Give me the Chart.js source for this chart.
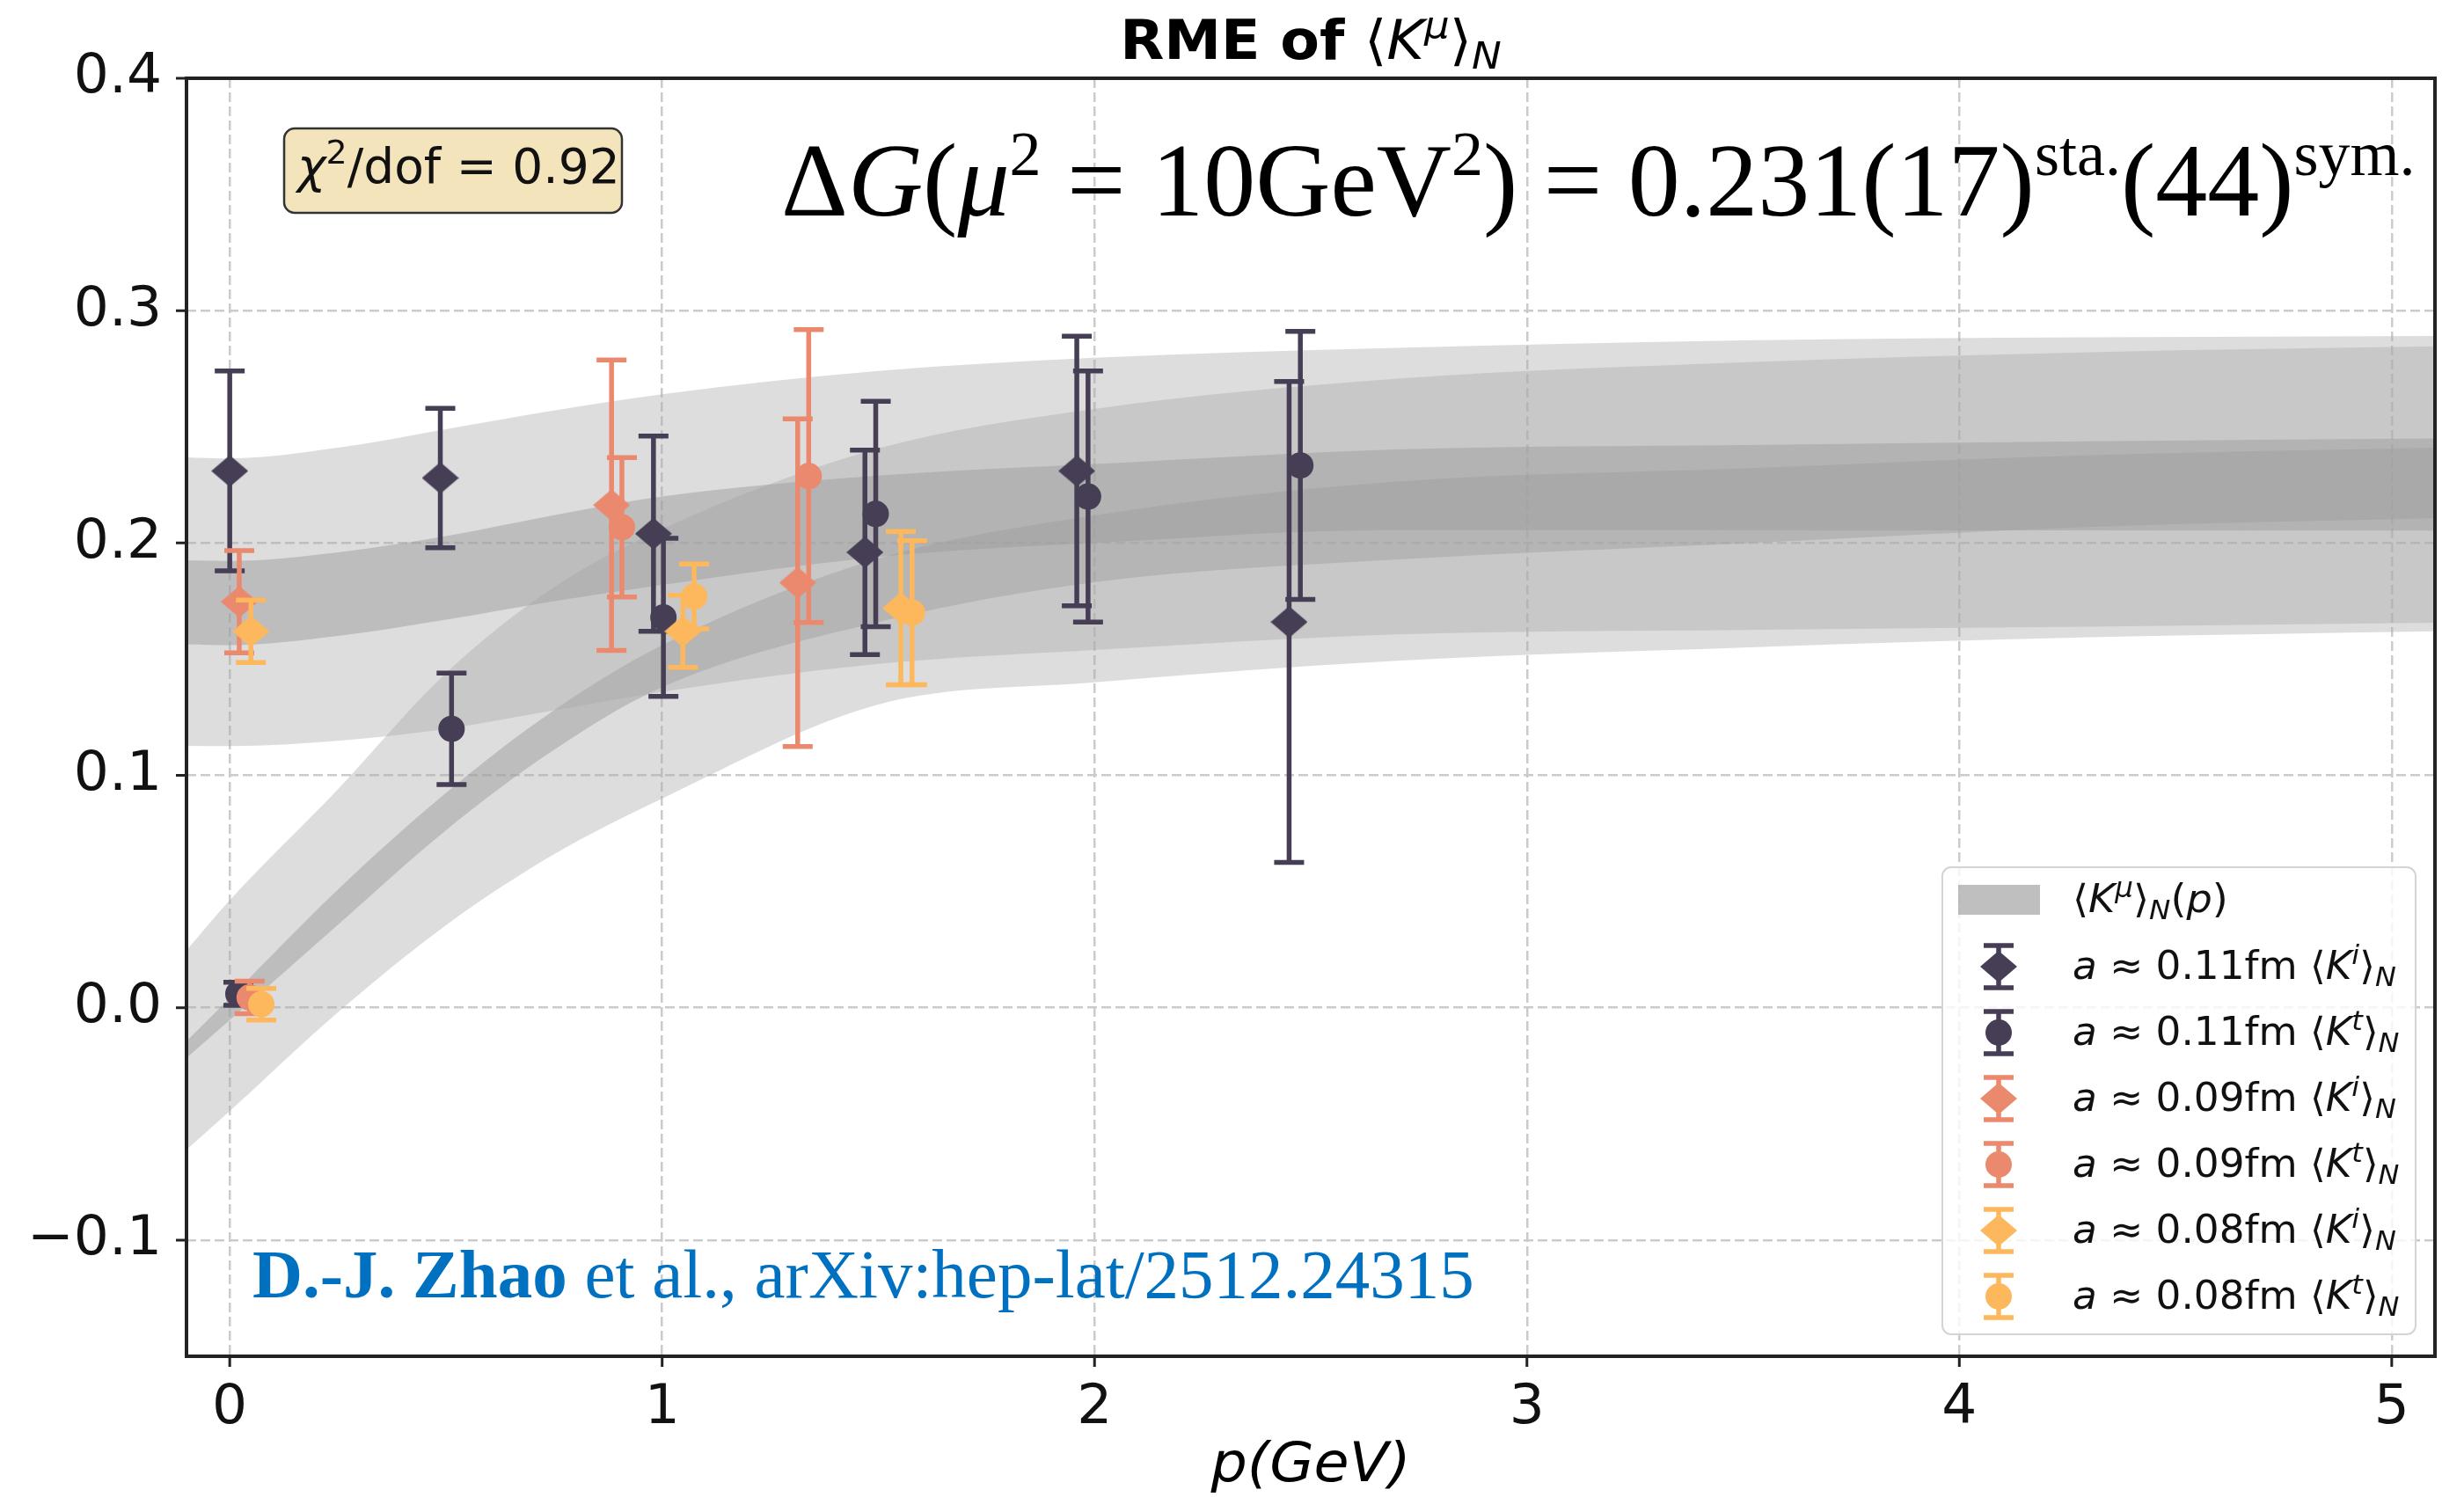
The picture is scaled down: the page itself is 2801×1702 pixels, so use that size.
<!DOCTYPE html>
<html>
<head>
<meta charset="utf-8">
<script src="https://cdn.jsdelivr.net/npm/chart.js@4.4.1/dist/chart.umd.min.js"></script>
<style>
  html, body { margin: 0; padding: 0; background: #fff; }
</style>
</head>
<body>
<canvas id="c" width="2801" height="1702"></canvas>
<script>
// axis ticks
const xTicks = [0, 1, 2, 3, 4, 5];
const yTicks = [-0.1, 0, 0.1, 0.2, 0.3, 0.4];

// fit bands (A = flat fit, B = rising fit)
const bandP    = [-0.1, 0, 0.25, 0.5, 0.75, 1.0, 1.5, 2.0, 2.7, 3.5, 4.3, 5.1];
const aOuterLo = [0.1127, 0.1126, 0.1149, 0.120, 0.128, 0.136, 0.148, 0.154, 0.1607, 0.1626, 0.164, 0.1657];
const aOuterHi = [0.2369, 0.2364, 0.241, 0.249, 0.257, 0.264, 0.274, 0.2797, 0.284, 0.2872, 0.2885, 0.2891];
const aInnerLo = [0.1564, 0.156, 0.160, 0.167, 0.175, 0.182, 0.194, 0.200, 0.2056, 0.2055, 0.2054, 0.2053];
const aInnerHi = [0.1926, 0.1923, 0.196, 0.203, 0.212, 0.220, 0.229, 0.234, 0.2403, 0.2422, 0.2438, 0.245];
const bOuterLo = [-0.061, -0.0445, -0.002, 0.0355, 0.066, 0.090, 0.1305, 0.140, 0.1493, 0.155, 0.1594, 0.162];
const bOuterHi = [0.0247, 0.0463, 0.094, 0.144, 0.181, 0.206, 0.2407, 0.2577, 0.2707, 0.2777, 0.2821, 0.2846];
const bInnerLo = [-0.0216, -0.0053, 0.0357, 0.0764, 0.111, 0.138, 0.166, 0.1831, 0.1929, 0.1999, 0.2069, 0.2106];
const bInnerHi = [-0.0144, 0.0042, 0.0508, 0.0924, 0.128, 0.156, 0.1933, 0.2119, 0.2264, 0.2321, 0.2378, 0.241];

// data points: momentum, value, error
const p011i = [0.0, 0.487, 0.98, 1.469, 1.959, 2.45];
const v011i = [0.231, 0.228, 0.204, 0.196, 0.231, 0.166];
const e011i = [0.043, 0.030, 0.042, 0.044, 0.058, 0.1035];

const p011t = [0.02, 0.513, 1.003, 1.494, 1.985, 2.476];
const v011t = [0.006, 0.120, 0.168, 0.2125, 0.220, 0.2334];
const e011t = [0.005, 0.024, 0.034, 0.0485, 0.054, 0.0577];

const p009i = [0.022, 0.883, 1.3135];
const v009i = [0.1747, 0.2163, 0.1829];
const e009i = [0.022, 0.0625, 0.0705];

const p009t = [0.046, 0.907, 1.339];
const v009t = [0.0044, 0.2068, 0.2288];
const e009t = [0.007, 0.030, 0.063];

const p008i = [0.049, 1.048, 1.552];
const v008i = [0.162, 0.162, 0.172];
const e008i = [0.0134, 0.0155, 0.033];

const p008t = [0.073, 1.074, 1.578];
const v008t = [0.0015, 0.177, 0.170];
const e008t = [0.0068, 0.014, 0.031];

const spacing  = ['0.11', '0.11', '0.09', '0.09', '0.08', '0.08'];
const current  = ['i', 't', 'i', 't', 'i', 't'];
const dark = '#463e55', salmon = '#ea896e', yellow = '#fdb85d';

const SANS = "'DejaVu Sans', sans-serif";
const SERIF = "'Liberation Serif', 'DejaVu Serif', serif";
const STRETCH = 1.05;   // the source figure is a little wider than tall

function diamond(color, w, h) {
    const c = document.createElement('canvas');
    c.width = w * 2; c.height = h * 2;
    const g = c.getContext('2d');
    g.fillStyle = color;
    g.beginPath();
    g.moveTo(w, 0); g.lineTo(2 * w, h); g.lineTo(w, 2 * h); g.lineTo(0, h);
    g.closePath(); g.fill();
    return c;
}

const zip = (xs, ys) => xs.map((x, i) => ({x: x, y: ys[i]}));

const outerFill = 'rgba(170,170,170,0.40)';
const innerFill = 'rgba(150,150,150,0.50)';

function band(lo, hi, color) {
    const base = {type: 'line', pointRadius: 0, borderWidth: 1, borderColor: 'rgba(0,0,0,0)',
        cubicInterpolationMode: 'monotone', order: 100};
    return [
        Object.assign({}, base, {data: zip(bandP, lo), fill: false}),
        Object.assign({}, base, {data: zip(bandP, hi), fill: '-1', backgroundColor: color})
    ];
}

const series = [
    {p: p011i, v: v011i, e: e011i, color: dark},
    {p: p011t, v: v011t, e: e011t, color: dark},
    {p: p009i, v: v009i, e: e009i, color: salmon},
    {p: p009t, v: v009t, e: e009t, color: salmon},
    {p: p008i, v: v008i, e: e008i, color: yellow},
    {p: p008t, v: v008t, e: e008t, color: yellow}
];

const datasets = [].concat(
    band(aOuterLo, aOuterHi, outerFill),
    band(aInnerLo, aInnerHi, innerFill),
    band(bOuterLo, bOuterHi, outerFill),
    band(bInnerLo, bInnerHi, innerFill)
);
series.forEach((s, i) => {
    const isDiamond = current[i] === 'i';
    datasets.push({
        type: 'scatter',
        data: zip(s.p, s.v),
        errs: s.e,
        backgroundColor: s.color,
        borderColor: s.color,
        borderWidth: 0,
        pointStyle: isDiamond ? diamond(s.color, 21, 18) : 'circle',
        pointRadius: isDiamond ? 21 : 15,
        order: 6 - i
    });
});

// draw a list of text pieces one after the other, optionally stretched in x
function runs(ctx, x, y, parts, draw, sx) {
    sx = sx || 1;
    let cx = 0;
    ctx.save();
    ctx.translate(x, y);
    ctx.scale(sx, 1);
    for (const p of parts) {
        ctx.font = p.f;
        if (draw) ctx.fillText(p.t, cx, p.dy || 0);
        cx += ctx.measureText(p.t).width;
    }
    ctx.restore();
    return cx * sx;
}

function errBar(ctx, x, y0, y1, color) {
    ctx.strokeStyle = color;
    ctx.lineWidth = 5.5;
    ctx.beginPath();
    ctx.moveTo(x, y0); ctx.lineTo(x, y1);
    ctx.moveTo(x - 17, y0); ctx.lineTo(x + 17, y0);
    ctx.moveTo(x - 17, y1); ctx.lineTo(x + 17, y1);
    ctx.stroke();
}

function roundRect(ctx, x, y, w, h, r) {
    ctx.beginPath();
    ctx.moveTo(x + r, y);
    ctx.arcTo(x + w, y, x + w, y + h, r);
    ctx.arcTo(x + w, y + h, x, y + h, r);
    ctx.arcTo(x, y + h, x, y, r);
    ctx.arcTo(x, y, x + w, y, r);
    ctx.closePath();
}

const figurePlugin = {
    id: 'figure',
    beforeDraw(chart) {
        const ctx = chart.ctx;
        ctx.save();
        ctx.fillStyle = '#fff';
        ctx.fillRect(0, 0, chart.width, chart.height);
        ctx.restore();
    },
    beforeDatasetDraw(chart, args) {
        const ds = chart.data.datasets[args.index];
        if (!ds.errs) return;
        const ctx = chart.ctx, xs = chart.scales.x, ys = chart.scales.y, a = chart.chartArea;
        ctx.save();
        ctx.beginPath();
        ctx.rect(a.left, a.top, a.right - a.left, a.bottom - a.top);
        ctx.clip();
        ds.data.forEach((pt, i) => {
            errBar(ctx, xs.getPixelForValue(pt.x),
                ys.getPixelForValue(pt.y - ds.errs[i]),
                ys.getPixelForValue(pt.y + ds.errs[i]), ds.backgroundColor);
        });
        ctx.restore();
    },
    afterDraw(chart) {
        const ctx = chart.ctx, a = chart.chartArea, xs = chart.scales.x, ys = chart.scales.y;
        ctx.save();

        // frame and tick marks
        ctx.strokeStyle = '#222';
        ctx.lineWidth = 4;
        ctx.strokeRect(a.left, a.top, a.right - a.left, a.bottom - a.top);
        ctx.lineWidth = 3;
        ctx.beginPath();
        xTicks.forEach(v => { const px = xs.getPixelForValue(v); ctx.moveTo(px, a.bottom); ctx.lineTo(px, a.bottom + 12); });
        yTicks.forEach(v => { const py = ys.getPixelForValue(v); ctx.moveTo(a.left, py); ctx.lineTo(a.left - 12, py); });
        ctx.stroke();

        ctx.fillStyle = '#000';
        ctx.textBaseline = 'alphabetic';
        ctx.textAlign = 'left';

        // title
        const title = [
            {t: 'RME of ', f: `bold 62px ${SANS}`},
            {t: '⟨', f: `62px ${SANS}`},
            {t: 'K', f: `italic 62px ${SANS}`},
            {t: 'μ', f: `italic 43px ${SANS}`, dy: -24},
            {t: '⟩', f: `62px ${SANS}`},
            {t: 'N', f: `italic 43px ${SANS}`, dy: 11}
        ];
        const tw = runs(ctx, 0, 0, title, false, STRETCH);
        runs(ctx, (a.left + a.right) / 2 - tw / 2, 67, title, true, STRETCH);

        // x axis label
        const xl = [{t: 'p(GeV)', f: `italic 62px ${SANS}`}];
        const xw = runs(ctx, 0, 0, xl, false, STRETCH);
        runs(ctx, (a.left + a.right) / 2 - xw / 2, 1684, xl, true, STRETCH);

        // chi2 box
        roundRect(ctx, 323, 146, 384, 96, 12);
        ctx.fillStyle = '#f4e4bc';
        ctx.fill();
        ctx.strokeStyle = '#333';
        ctx.lineWidth = 2.5;
        ctx.stroke();
        ctx.fillStyle = '#111';
        runs(ctx, 338, 208, [
            {t: 'χ', f: `italic 55px ${SANS}`},
            {t: '2', f: `38px ${SANS}`, dy: -22},
            {t: '/dof = 0.92', f: `55px ${SANS}`}
        ], true);

        // result
        ctx.fillStyle = '#000';
        const sup = -46;
        runs(ctx, 888, 245, [
            {t: 'Δ', f: `118px ${SERIF}`},
            {t: 'G', f: `italic 118px ${SERIF}`},
            {t: '(', f: `118px ${SERIF}`},
            {t: 'μ', f: `italic 118px ${SERIF}`},
            {t: '2', f: `72px ${SERIF}`, dy: sup},
            {t: ' = 10GeV', f: `118px ${SERIF}`},
            {t: '2', f: `72px ${SERIF}`, dy: sup},
            {t: ') = 0.231(17)', f: `118px ${SERIF}`},
            {t: 'sta.', f: `72px ${SERIF}`, dy: sup},
            {t: '(44)', f: `118px ${SERIF}`},
            {t: 'sym.', f: `72px ${SERIF}`, dy: sup}
        ], true, 1.0);

        // reference
        ctx.fillStyle = '#0070c0';
        runs(ctx, 287, 1475, [
            {t: 'D.-J. Zhao', f: `bold 79px ${SERIF}`},
            {t: ' et al., arXiv:hep-lat/2512.24315', f: `79px ${SERIF}`}
        ], true, 1.0);

        // legend
        roundRect(ctx, 2208, 986, 538, 531, 10);
        ctx.fillStyle = 'rgba(255,255,255,0.8)';
        ctx.fill();
        ctx.strokeStyle = '#d4d4d4';
        ctx.lineWidth = 2;
        ctx.stroke();

        const mx = 2272, tx = 2356, LS = 1.03;
        ctx.fillStyle = 'rgba(128,128,128,0.5)';
        ctx.fillRect(2226, 1006, 93, 34);
        ctx.fillStyle = '#111';
        runs(ctx, tx, 1037, [
            {t: '⟨', f: `44px ${SANS}`},
            {t: 'K', f: `italic 44px ${SANS}`},
            {t: 'μ', f: `italic 31px ${SANS}`, dy: -17},
            {t: '⟩', f: `44px ${SANS}`},
            {t: 'N', f: `italic 31px ${SANS}`, dy: 8},
            {t: '(', f: `44px ${SANS}`},
            {t: 'p', f: `italic 44px ${SANS}`},
            {t: ')', f: `44px ${SANS}`}
        ], true, STRETCH);

        series.forEach((s, i) => {
            const cy = 1099 + i * 75;
            errBar(ctx, mx, cy - 24, cy + 24, s.color);
            if (current[i] === 'i') {
                const d = diamond(s.color, 21, 18);
                ctx.drawImage(d, mx - 21, cy - 18);
            } else {
                ctx.fillStyle = s.color;
                ctx.beginPath();
                ctx.arc(mx, cy, 15, 0, Math.PI * 2);
                ctx.fill();
            }
            ctx.fillStyle = '#111';
            runs(ctx, tx, cy + 14, [
                {t: 'a', f: `italic 44px ${SANS}`},
                {t: ' ≈ ' + spacing[i] + 'fm ', f: `44px ${SANS}`},
                {t: '⟨', f: `44px ${SANS}`},
                {t: 'K', f: `italic 44px ${SANS}`},
                {t: current[i], f: `italic 31px ${SANS}`, dy: -17},
                {t: '⟩', f: `44px ${SANS}`},
                {t: 'N', f: `italic 31px ${SANS}`, dy: 8}
            ], true, LS);
        });

        ctx.restore();
    }
};

const fmtY = v => (v < 0 ? '\u2212' : '') + Math.abs(v).toFixed(1);

new Chart(document.getElementById('c'), {
    type: 'scatter',
    data: {datasets: datasets},
    options: {
        responsive: false,
        animation: false,
        events: [],
        layout: {padding: {left: 0, right: 33, top: 89, bottom: 0}},
        plugins: {legend: {display: false}, tooltip: {enabled: false}, title: {display: false}},
        scales: {
            x: {
                type: 'linear', min: -0.1, max: 5.1,
                afterBuildTicks: s => { s.ticks = xTicks.map(v => ({value: v})); },
                afterFit: s => { s.height = 160; },
                grid: {color: '#cbcbcb', lineWidth: 2.5, drawTicks: false},
                border: {display: false, dash: [11, 5]},
                ticks: {padding: 22, color: '#111', maxRotation: 0, autoSkip: false,
                    font: {family: SANS, size: 63}, callback: v => String(v)}
            },
            y: {
                type: 'linear', min: -0.15, max: 0.4,
                afterBuildTicks: s => { s.ticks = yTicks.map(v => ({value: v})); },
                afterFit: s => { s.width = 212; },
                grid: {color: '#cbcbcb', lineWidth: 2.5, drawTicks: false},
                border: {display: false, dash: [11, 5]},
                ticks: {padding: 28, color: '#111', autoSkip: false,
                    font: {family: SANS, size: 63}, callback: v => fmtY(v)}
            }
        }
    },
    plugins: [figurePlugin]
});
</script>
</body>
</html>
